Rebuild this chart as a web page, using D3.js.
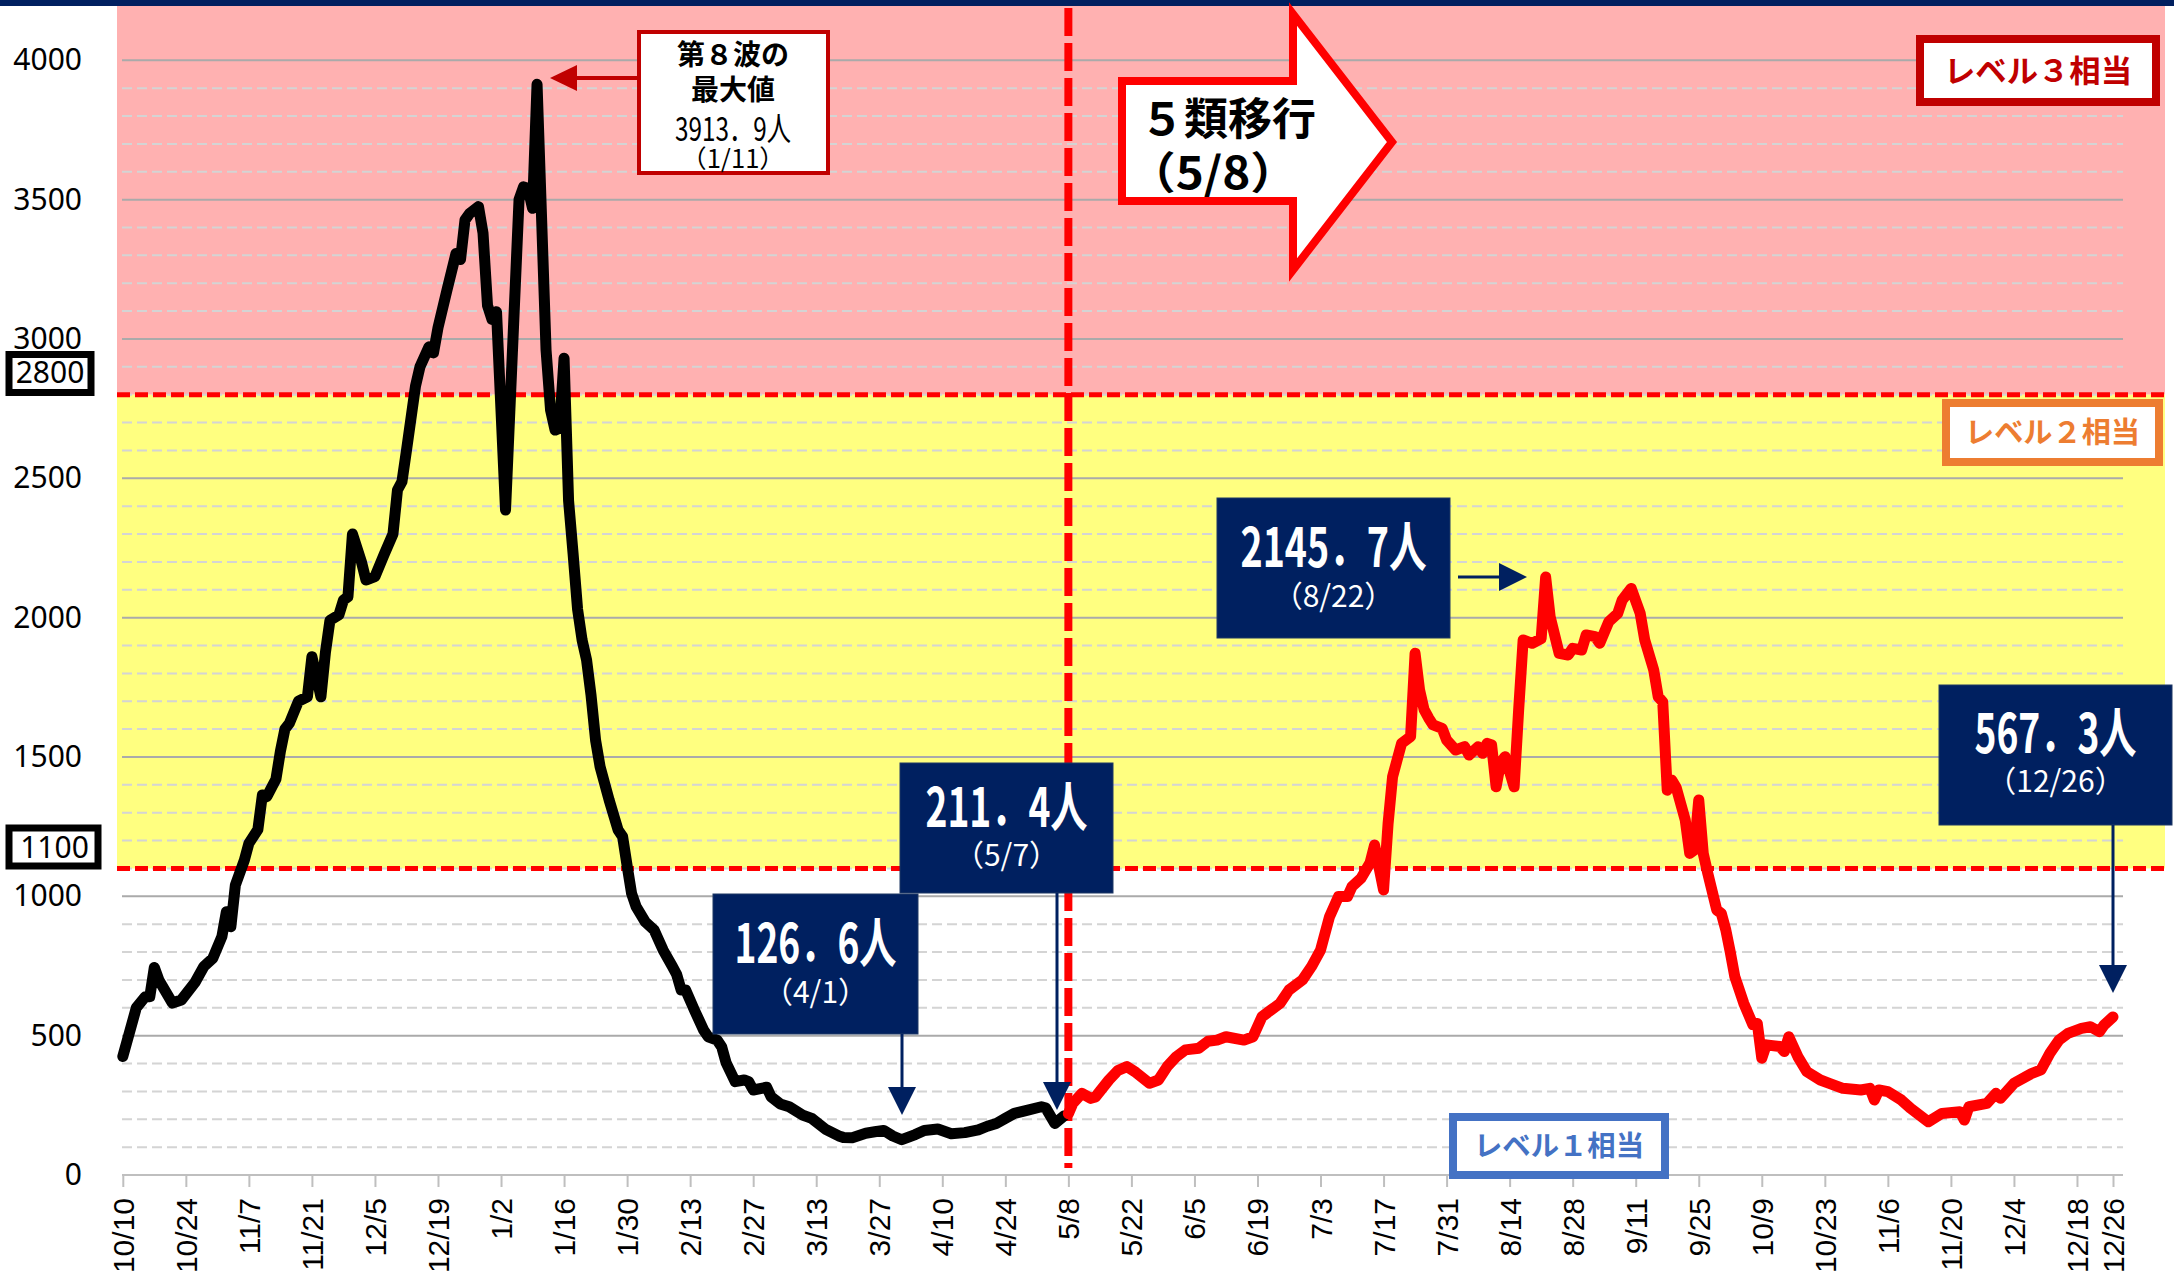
<!DOCTYPE html>
<html>
<head>
<meta charset="utf-8">
<title>定点当たり患者数の推移</title>
<script src="https://d3js.org/d3.v7.min.js"></script>
<style>
    body { margin: 0; background: #fff; }
    .jp { font-family: 'Noto Sans CJK JP', sans-serif; }
</style>
</head>
<body>
<div id="chart-area"></div>
<script>
/*
*    5類移行前後の推移
*/

// black series: 10/10/2022 - 5/7/2023
var blackDates = ['10/10', '10/13', '10/15', '10/16', '10/17', '10/18', '10/21', '10/23', '10/26', '10/28',
    '10/30', '11/1', '11/2', '11/3', '11/4', '11/5', '11/6', '11/7', '11/9', '11/10',
    '11/11', '11/13', '11/14', '11/15', '11/16', '11/18', '11/20', '11/21', '11/23', '11/24',
    '11/25', '11/27', '11/28', '11/29', '11/30', '12/2', '12/3', '12/5', '12/7', '12/9',
    '12/10', '12/11', '12/12', '12/14', '12/15', '12/17', '12/18', '12/19', '12/21', '12/23',
    '12/24', '12/25', '12/26', '12/28', '12/29', '12/30', '12/31', '1/1', '1/3', '1/6',
    '1/7', '1/8', '1/9', '1/10', '1/12', '1/13', '1/14', '1/15', '1/16', '1/17',
    '1/18', '1/19', '1/20', '1/21', '1/22', '1/23', '1/24', '1/26', '1/28', '1/29',
    '1/30', '1/31', '2/1', '2/3', '2/5', '2/6', '2/7', '2/9', '2/10', '2/11',
    '2/12', '2/14', '2/16', '2/17', '2/19', '2/20', '2/21', '2/23', '2/25', '2/26',
    '2/27', '3/2', '3/3', '3/5', '3/7', '3/10', '3/12', '3/15', '3/18', '3/19',
    '3/21', '3/24', '3/26', '3/28', '3/30', '4/1', '4/4', '4/6', '4/9', '4/12',
    '4/15', '4/18', '4/20', '4/22', '4/24', '4/26', '4/29', '5/2', '5/3', '5/5', '5/7']
var blackValues = [425, 600, 640, 640, 745, 700, 617, 628, 690, 748,
    778, 855, 945, 891, 1040, 1085, 1130, 1190, 1240, 1364,
    1358, 1420, 1520, 1600, 1621, 1700, 1716, 1860, 1716, 1875,
    1990, 2010, 2063, 2075, 2300, 2200, 2135, 2147, 2225, 2300,
    2458, 2488, 2600, 2830, 2900, 2972, 2950, 3040, 3176, 3307,
    3285, 3427, 3450, 3475, 3380, 3120, 3070, 3098, 2386, 3500,
    3546, 3540, 3469, 3913.9, 2960, 2745, 2673, 2680, 2931, 2420,
    2230, 2030, 1920, 1848, 1720, 1560, 1465, 1346, 1238, 1214,
    1110, 1010, 963, 909, 879, 843, 807, 750, 720, 664,
    664, 590, 520, 496, 484, 460, 402, 335, 341, 335,
    305, 315, 280, 255, 245, 215, 203, 165, 140, 135,
    134, 150, 155, 160, 140, 126.6, 145, 160, 165, 148,
    152, 162, 175, 185, 203, 221, 233, 245, 240, 185, 211.4]

// red series: 5/8/2023 - 12/26/2023
var redDates = ['5/8', '5/9', '5/11', '5/13', '5/14', '5/17', '5/19', '5/21', '5/23', '5/26',
    '5/28', '5/30', '6/1', '6/3', '6/6', '6/8', '6/10', '6/12', '6/16', '6/18',
    '6/20', '6/22', '6/24', '6/26', '6/29', '7/1', '7/3', '7/5', '7/7', '7/9',
    '7/10', '7/12', '7/14', '7/15', '7/17', '7/18', '7/19', '7/21', '7/23', '7/24',
    '7/25', '7/26', '7/27', '7/28', '7/30', '7/31', '8/2', '8/4', '8/5', '8/7',
    '8/8', '8/9', '8/10', '8/11', '8/12', '8/13', '8/15', '8/16', '8/17', '8/19',
    '8/21', '8/22', '8/23', '8/25', '8/27', '8/28', '8/30', '8/31', '9/2', '9/3',
    '9/5', '9/7', '9/8', '9/10', '9/12', '9/13', '9/15', '9/16', '9/17', '9/18',
    '9/19', '9/20', '9/22', '9/23', '9/24', '9/25', '9/26', '9/27', '9/29', '9/30',
    '10/1', '10/2', '10/3', '10/5', '10/7', '10/8', '10/9', '10/10', '10/13', '10/14',
    '10/15', '10/17', '10/19', '10/22', '10/24', '10/27', '10/31', '11/2', '11/3', '11/4',
    '11/6', '11/9', '11/11', '11/15', '11/18', '11/22', '11/23', '11/24', '11/28', '11/30',
    '12/1', '12/4', '12/8', '12/10', '12/12', '12/14', '12/16', '12/19', '12/21', '12/23',
    '12/24', '12/26']
var redValues = [220, 257, 293, 275, 280, 341, 375, 389, 368, 329,
    341, 390, 425, 449, 455, 480, 484, 496, 484, 496,
    568, 592, 616, 664, 700, 748, 807, 927, 999, 999,
    1035, 1065, 1120, 1184, 1023, 1260, 1429, 1549, 1573, 1872,
    1740, 1670, 1640, 1615, 1603, 1561, 1525, 1537, 1507, 1537,
    1513, 1549, 1543, 1393, 1480, 1501, 1393, 1668, 1920, 1908,
    1925, 2145.7, 2003, 1872, 1866, 1890, 1884, 1938, 1932, 1908,
    1985, 2015, 2063, 2105, 2015, 1920, 1812, 1716, 1698, 1381,
    1417, 1390, 1274, 1154, 1166, 1346, 1154, 1083, 951, 939,
    880, 800, 712, 616, 540, 544, 419, 467, 461, 443,
    496, 425, 371, 341, 329, 311, 305, 311, 269, 305,
    299, 269, 240, 191, 221, 227, 197, 245, 257, 293,
    275, 329, 365, 377, 437, 484, 508, 526, 532, 514,
    538, 567.3]

var tickLabels = ['10/10', '10/24', '11/7', '11/21', '12/5', '12/19', '1/2', '1/16', '1/30', '2/13',
    '2/27', '3/13', '3/27', '4/10', '4/24', '5/8', '5/22', '6/5', '6/19', '7/3',
    '7/17', '7/31', '8/14', '8/28', '9/11', '9/25', '10/9', '10/23', '11/6', '11/20',
    '12/4', '12/18', '12/26']
var yTicks = [0, 500, 1000, 1500, 2000, 2500, 3000, 3500, 4000]
var levelLines = [2800, 1100]
var shiftDate = '5/8'

var peakValue = 3913.9
var peakDate = '1/11'
var calloutValues = [126.6, 211.4, 2145.7, 567.3]
var calloutDates = ['4/1', '5/7', '8/22', '12/26']

// 'M/D' list -> Date, year goes up when the month wraps
function toDates (list, startYear) {
    var year = startYear
    var prev = 0
    return list.map(md => {
        var p = md.split('/').map(Number)
        if (p[0] < prev) year++
        prev = p[0]
        return new Date(year, p[0] - 1, p[1])
    })
}

var black = toDates(blackDates, 2022).map((d, i) => ({ date: d, value: blackValues[i] }))
var red = toDates(redDates, 2023).map((d, i) => ({ date: d, value: redValues[i] }))
var tickDates = toDates(tickLabels, 2022)

var width = 2174
var height = 1278

var svg = d3.select('#chart-area')
    .append('svg')
        .attr('width', width)
        .attr('height', height)

// X Scale
var x = d3.scaleTime()
    .domain([new Date(2022, 9, 10), new Date(2023, 11, 26)])
    .range([122.8, 2113])

// Y Scale
var y = d3.scaleLinear()
    .domain([0, 4000])
    .range([1175, 60.3])

var bandLeft = 117
var bandRight = 2165
var gridRight = 2123

// top bar
svg.append('rect')
    .attr('x', 0).attr('y', 0)
    .attr('width', width).attr('height', 6)
    .attr('fill', '#002060')

// level bands
svg.append('rect')
    .attr('x', bandLeft).attr('y', 6)
    .attr('width', bandRight - bandLeft)
    .attr('height', y(levelLines[0]) - 6)
    .attr('fill', '#ffb1b1')
svg.append('rect')
    .attr('x', bandLeft).attr('y', y(levelLines[0]))
    .attr('width', bandRight - bandLeft)
    .attr('height', y(levelLines[1]) - y(levelLines[0]))
    .attr('fill', '#ffff80')

// gridlines
var minor = d3.range(100, 4000, 100).filter(v => v % 500 !== 0)
svg.append('g').selectAll('line')
    .data(minor)
    .enter().append('line')
        .attr('x1', 122).attr('x2', gridRight)
        .attr('y1', d => y(d)).attr('y2', d => y(d))
        .attr('stroke', '#d4d4d4')
        .attr('stroke-width', 2)
        .attr('stroke-dasharray', '10 5')
svg.append('g').selectAll('line')
    .data(yTicks.slice(1))
    .enter().append('line')
        .attr('x1', 122).attr('x2', gridRight)
        .attr('y1', d => y(d)).attr('y2', d => y(d))
        .attr('stroke', '#aaaaaa')
        .attr('stroke-width', 2)

// X Axis
var xAxisCall = d3.axisBottom(x)
    .tickValues(tickDates)
    .tickFormat(d3.timeFormat('%-m/%-d'))
    .tickSize(12)
    .tickSizeOuter(0)
var xAxisGroup = svg.append('g')
    .attr('transform', `translate(0, ${y(0)})`)
    .call(xAxisCall)
xAxisGroup.select('.domain')
    .attr('d', `M122,0H${gridRight}`)
    .attr('stroke', '#bfbfbf')
    .attr('stroke-width', 2)
xAxisGroup.selectAll('.tick line')
    .attr('stroke', '#bfbfbf')
    .attr('stroke-width', 2)
xAxisGroup.selectAll('.tick text')
    .attr('font-family', "'Liberation Sans', Arial, sans-serif")
    .attr('font-size', 30)
    .attr('fill', '#000')
    .attr('text-anchor', 'end')
    .attr('transform', 'rotate(-90)')
    .attr('x', -23)
    .attr('y', 0)
    .attr('dy', '0.35em')

// Y Axis
var yAxisCall = d3.axisLeft(y)
    .tickValues(yTicks)
    .tickFormat(d => d)
    .tickSize(0)
    .tickPadding(6)
var yAxisGroup = svg.append('g')
    .attr('transform', 'translate(88, 0)')
    .call(yAxisCall)
yAxisGroup.select('.domain').remove()
yAxisGroup.selectAll('.tick text')
    .attr('font-family', "'Noto Sans', sans-serif")
    .attr('font-size', 30)
    .attr('fill', '#000')

// level threshold lines
svg.append('g').selectAll('line')
    .data(levelLines)
    .enter().append('line')
        .attr('x1', bandLeft).attr('x2', bandRight)
        .attr('y1', d => y(d)).attr('y2', d => y(d))
        .attr('stroke', '#ff0000')
        .attr('stroke-width', 5)
        .attr('stroke-dasharray', '13 5')

// 5類移行 line
var shiftX = x(toDates([shiftDate], 2023)[0])
svg.append('line')
    .attr('x1', shiftX).attr('x2', shiftX)
    .attr('y1', 8).attr('y2', 1168)
    .attr('stroke', '#ff0000')
    .attr('stroke-width', 8)
    .attr('stroke-dasharray', '28 7')

// series lines
var line = d3.line()
    .x(d => x(d.date))
    .y(d => y(d.value))

svg.append('path')
    .datum(black)
    .attr('d', line)
    .attr('fill', 'none')
    .attr('stroke', '#000')
    .attr('stroke-width', 11)
    .attr('stroke-linejoin', 'round')
    .attr('stroke-linecap', 'round')

svg.append('path')
    .datum(red)
    .attr('d', line)
    .attr('fill', 'none')
    .attr('stroke', '#ff0000')
    .attr('stroke-width', 11)
    .attr('stroke-linejoin', 'round')
    .attr('stroke-linecap', 'round')

// arrow: shaft + triangular head
function arrow (x1, y1, x2, y2, color, w, headLen, headHalf) {
    var len = Math.hypot(x2 - x1, y2 - y1)
    var ux = (x2 - x1) / len
    var uy = (y2 - y1) / len
    var bx = x2 - ux * headLen
    var by = y2 - uy * headLen
    svg.append('line')
        .attr('x1', x1).attr('y1', y1)
        .attr('x2', bx).attr('y2', by)
        .attr('stroke', color)
        .attr('stroke-width', w)
    svg.append('polygon')
        .attr('points', [[x2, y2], [bx - uy * headHalf, by + ux * headHalf], [bx + uy * headHalf, by - ux * headHalf]].join(' '))
        .attr('fill', color)
}

// level value boxes at the left
var levelBoxes = [
    { x: 9, y: 354.5, w: 82, h: 38, tx: 50, ty: 383 },
    { x: 9, y: 828, w: 89, h: 38, tx: 54.5, ty: 858 }
]
levelBoxes.forEach((b, i) => {
    svg.append('rect')
        .attr('x', b.x).attr('y', b.y)
        .attr('width', b.w).attr('height', b.h)
        .attr('fill', '#fff')
        .attr('stroke', '#000')
        .attr('stroke-width', 7)
    svg.append('text')
        .attr('x', b.tx).attr('y', b.ty)
        .attr('text-anchor', 'middle')
        .attr('font-family', "'Noto Sans', sans-serif")
        .attr('font-size', 30)
        .text(levelLines[i])
})

// level labels
var levelLabels = [
    { text: 'レベル３相当', color: '#c00000', x: 1920, y: 39, w: 236, h: 63, size: 31, len: 188 },
    { text: 'レベル２相当', color: '#ed7d31', x: 1946, y: 403, w: 213, h: 59, size: 29, len: 175 },
    { text: 'レベル１相当', color: '#4472c4', x: 1453, y: 1117, w: 212, h: 58, size: 28, len: 170 }
]
levelLabels.forEach(l => {
    svg.append('rect')
        .attr('x', l.x).attr('y', l.y)
        .attr('width', l.w).attr('height', l.h)
        .attr('fill', '#fff')
        .attr('stroke', l.color)
        .attr('stroke-width', 8)
    svg.append('text')
        .attr('class', 'jp')
        .attr('x', l.x + l.w / 2)
        .attr('y', l.y + l.h / 2 + l.size * 0.36)
        .attr('text-anchor', 'middle')
        .attr('font-size', l.size)
        .attr('font-weight', 'bold')
        .attr('fill', l.color)
        .attr('textLength', l.len)
        .attr('lengthAdjust', 'spacingAndGlyphs')
        .text(l.text)
})

// 5類移行 arrow
svg.append('polygon')
    .attr('points', '1122,81 1293,81 1293,14 1392,142 1293,270 1293,201 1122,201')
    .attr('fill', '#fff')
    .attr('stroke', '#ff0000')
    .attr('stroke-width', 8)
svg.append('text')
    .attr('class', 'jp')
    .attr('x', 1140).attr('y', 135)
    .attr('font-size', 44)
    .attr('font-weight', 'bold')
    .text('５類移行')
svg.append('text')
    .attr('class', 'jp')
    .attr('x', 1128).attr('y', 189)
    .attr('font-size', 44)
    .attr('font-weight', 'bold')
    .attr('textLength', 170)
    .attr('lengthAdjust', 'spacingAndGlyphs')
    .text(`（${shiftDate}）`)

// peak note
var fmt = v => d3.format('.1f')(v).replace('.', '．') + '人'
svg.append('rect')
    .attr('x', 639).attr('y', 32)
    .attr('width', 189).attr('height', 141)
    .attr('fill', '#fff')
    .attr('stroke', '#c00000')
    .attr('stroke-width', 4)
var peakLines = [
    { text: '第８波の', y: 65, size: 28, weight: 'bold' },
    { text: '最大値', y: 100, size: 28, weight: 'bold' },
    { text: fmt(peakValue), y: 141, size: 33, weight: 'normal', len: 116 },
    { text: `（${peakDate}）`, y: 168, size: 25, weight: 'normal', len: 104 }
]
peakLines.forEach(p => {
    var t = svg.append('text')
        .attr('class', 'jp')
        .attr('x', 733).attr('y', p.y)
        .attr('text-anchor', 'middle')
        .attr('font-size', p.size)
        .attr('font-weight', p.weight)
        .text(p.text)
    if (p.len) t.attr('textLength', p.len).attr('lengthAdjust', 'spacingAndGlyphs')
})
arrow(637, 78, 550, 78, '#c00000', 4, 27, 13)

// value callouts
var callouts = [
    { x: 713, y: 894, w: 205, h: 140, t1: 69, t2: 109, len: 162, arrow: [902, 1034, 902, 1115] },
    { x: 900, y: 763, w: 213, h: 130, t1: 64, t2: 103, len: 162, arrow: [1057, 893, 1057, 1110] },
    { x: 1217, y: 498, w: 233, h: 140, t1: 69, t2: 109, len: 186, arrow: [1458, 577, 1527, 577] },
    { x: 1939, y: 685, w: 233, h: 140, t1: 68, t2: 107, len: 162, arrow: [2113, 825, 2113, 993] }
]
callouts.forEach((c, i) => {
    svg.append('rect')
        .attr('x', c.x).attr('y', c.y)
        .attr('width', c.w).attr('height', c.h)
        .attr('fill', '#002060')
        .attr('stroke', '#1f3864')
        .attr('stroke-width', 1)
    svg.append('text')
        .attr('class', 'jp')
        .attr('x', c.x + c.w / 2).attr('y', c.y + c.t1)
        .attr('text-anchor', 'middle')
        .attr('font-size', 54)
        .attr('font-weight', 'bold')
        .attr('fill', '#fff')
        .attr('textLength', c.len)
        .attr('lengthAdjust', 'spacingAndGlyphs')
        .text(fmt(calloutValues[i]))
    svg.append('text')
        .attr('class', 'jp')
        .attr('x', c.x + c.w / 2).attr('y', c.y + c.t2)
        .attr('text-anchor', 'middle')
        .attr('font-size', 30)
        .attr('fill', '#fff')
        .text(`（${calloutDates[i]}）`)
    arrow(c.arrow[0], c.arrow[1], c.arrow[2], c.arrow[3], '#002060', 3, 28, 14)
})
</script>
</body>
</html>
